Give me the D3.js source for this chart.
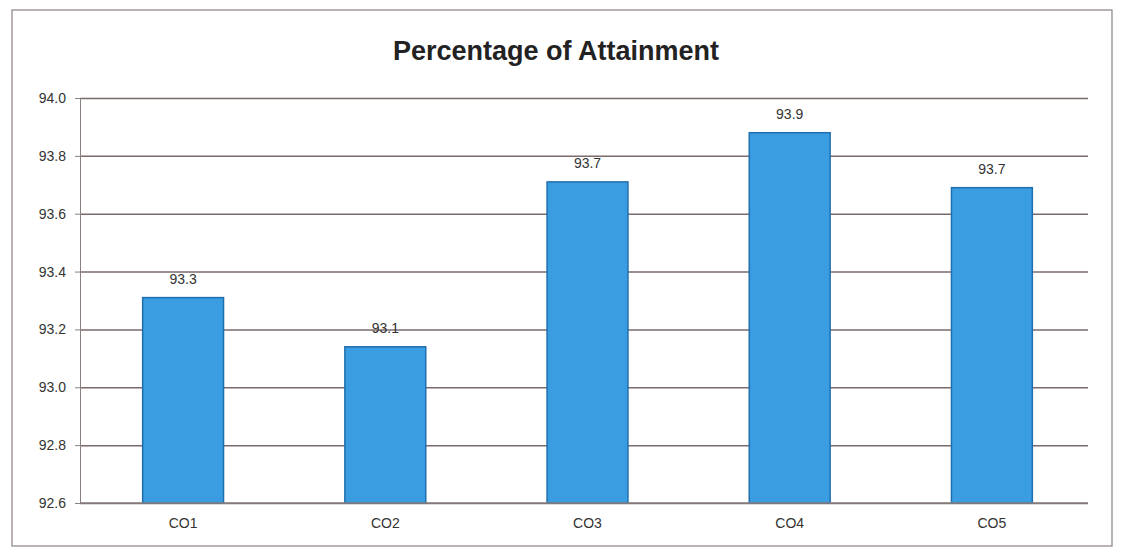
<!DOCTYPE html>
<html><head><meta charset="utf-8">
<script src="https://cdn.jsdelivr.net/npm/d3@7"></script>
<style>body{margin:0;background:#fff;}svg{display:block;}</style>
</head><body>
<svg id="c" width="1130" height="554"></svg>
<script>
const categories = ["CO1","CO2","CO3","CO4","CO5"];
const values = [93.31, 93.14, 93.71, 93.88, 93.69];
const yTicks = [92.6, 92.8, 93.0, 93.2, 93.4, 93.6, 93.8, 94.0];
const title = "Percentage of Attainment";

const svg = d3.select("#c");
const m = {left: 80, right: 1088, top: 98, bottom: 503};

svg.append("rect").attr("x", 12).attr("y", 10).attr("width", 1100).attr("height", 536)
  .attr("fill", "#fff").attr("stroke", "#8a8080").attr("stroke-width", 1.2);

const x = d3.scaleBand().domain(categories).range([82, 1093]).paddingInner(0.6).paddingOuter(0.3);
const y = d3.scaleLinear().domain([92.6, 94.0]).range([m.bottom, m.top]);

// gridlines
svg.append("g").attr("transform", `translate(${m.left},0)`)
  .call(d3.axisLeft(y).tickValues(yTicks).tickSize(-(m.right - m.left)).tickSizeOuter(0).tickFormat(""))
  .call(g => g.select(".domain").remove())
  .call(g => g.selectAll("line").attr("stroke", "#7a6a6a").attr("stroke-width", 1.5));

// y axis with labels
svg.append("g").attr("transform", `translate(${m.left},0)`)
  .call(d3.axisLeft(y).tickValues(yTicks).tickSize(5).tickFormat(d3.format(".1f")))
  .call(g => g.select(".domain").attr("stroke", "#8a8080"))
  .call(g => g.selectAll("line").attr("stroke", "#8a8080"))
  .call(g => g.selectAll("text").attr("font-family", "Liberation Sans, Arial, sans-serif")
    .attr("font-size", 14).attr("fill", "#333").attr("x", -14));

// bars
svg.append("g").selectAll("rect").data(values).join("rect")
  .attr("x", (d, i) => x(categories[i]))
  .attr("y", d => y(d))
  .attr("width", x.bandwidth())
  .attr("height", d => y(92.6) - y(d))
  .attr("fill", "#3a9de2").attr("stroke", "#1f6fae").attr("stroke-width", 1.5);

// value labels
svg.append("g").selectAll("text").data(values).join("text")
  .attr("x", (d, i) => x(categories[i]) + x.bandwidth() / 2)
  .attr("y", d => y(d) - 14)
  .attr("text-anchor", "middle")
  .attr("font-family", "Liberation Sans, Arial, sans-serif").attr("font-size", 14).attr("fill", "#333")
  .text(d => d3.format(".1f")(d));

// x axis line
svg.append("line").attr("x1", m.left).attr("x2", m.right).attr("y1", m.bottom).attr("y2", m.bottom)
  .attr("stroke", "#8a8080").attr("stroke-width", 1.5);

// x axis labels
svg.append("g").attr("transform", `translate(0,${m.bottom})`)
  .call(d3.axisBottom(x).tickSize(0).tickSizeOuter(0))
  .call(g => g.select(".domain").remove())
  .call(g => g.selectAll("text").attr("font-family", "Liberation Sans, Arial, sans-serif")
    .attr("font-size", 14).attr("fill", "#333").attr("dy", "1.6em"));

// title
svg.append("text").attr("x", 556).attr("y", 60).attr("text-anchor", "middle")
  .attr("font-family", "Liberation Sans, Arial, sans-serif").attr("font-size", 27).attr("font-weight", "bold")
  .attr("fill", "#222").text(title);
</script>
</body></html>
